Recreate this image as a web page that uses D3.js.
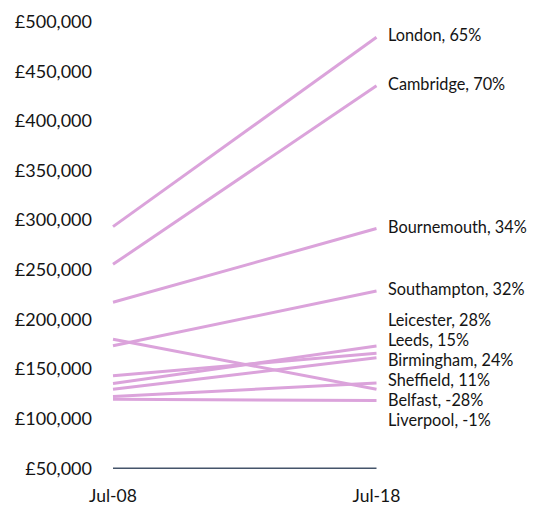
<!DOCTYPE html>
<html><head><meta charset="utf-8">
<script src="https://cdn.jsdelivr.net/npm/d3@7"></script>
<style>body{margin:0;background:#fff}svg{display:block}text{font-family:Lato,"Open Sans",sans-serif;fill:#141414}</style>
</head><body><svg id="c" width="533" height="506"></svg>
<script>
const periods = ["Jul-08", "Jul-18"];
const cities = ["London","Cambridge","Bournemouth","Southampton","Leicester","Leeds","Birmingham","Sheffield","Belfast","Liverpool"];
const start2008 = [293500, 255500, 217300, 173500, 135500, 143300, 129600, 122300, 180000, 119500];
const end2018 = [484300, 435500, 291600, 228700, 173200, 165900, 161300, 136000, 129600, 118200];
const changePct = ["65%","70%","34%","32%","28%","15%","24%","11%","-28%","-1%"];
const yTicks = [50000,100000,150000,200000,250000,300000,350000,400000,450000,500000];

const svg = d3.select("#c");
const x = d3.scalePoint().domain(periods).range([113, 376.5]);
const y = d3.scaleLinear().domain([50000, 500000]).range([468.3, 21.7]);
const fmt = v => "£" + d3.format(",")(v);

// y tick labels
svg.append("g").selectAll("text").data(yTicks).join("text")
  .attr("x", 92).attr("y", d => y(d)).attr("dy", "0.35em")
  .attr("text-anchor", "end").attr("font-size", 18).text(fmt);

// baseline axis
svg.append("line").attr("x1", x(periods[0])).attr("x2", x(periods[1]))
  .attr("y1", y(50000)).attr("y2", y(50000))
  .attr("stroke", "#44546A").attr("stroke-width", 1.6);

// x labels
svg.append("g").selectAll("text").data(periods).join("text")
  .attr("x", d => x(d)).attr("y", 502)
  .attr("text-anchor", "middle").attr("font-size", 17.5).text(d => d);

const data = cities.map((c, i) => ({c, a: start2008[i], b: end2018[i], p: changePct[i]}));

svg.append("g").selectAll("line").data(data).join("line")
  .attr("x1", x(periods[0])).attr("y1", d => y(d.a))
  .attr("x2", x(periods[1])).attr("y2", d => y(d.b))
  .attr("stroke", "#DBA3DB").attr("stroke-width", 3);

// label placement with simple cluster relaxation
const gap = 19.9;
const items = data.map(d => ({d, t: y(d.b) - 1.5})).sort((p, q) => p.t - q.t);
let groups = items.map(it => ({items: [it], top: it.t}));
let changed = true;
while (changed) {
  changed = false;
  for (let i = 0; i < groups.length - 1; i++) {
    const g = groups[i], h = groups[i + 1];
    if (g.top + g.items.length * gap > h.top) {
      const its = g.items.concat(h.items);
      const mean = d3.mean(its, (it, k) => it.t - k * gap);
      groups.splice(i, 2, {items: its, top: mean});
      changed = true; break;
    }
  }
}
groups.forEach(g => g.items.forEach((it, k) => it.y = g.top + k * gap));

svg.append("g").selectAll("text").data(items).join("text")
  .attr("x", 388).attr("y", it => it.y).attr("dy", "0.35em")
  .attr("font-size", 16.3).text(it => it.d.c + ", " + it.d.p);
</script></body></html>
